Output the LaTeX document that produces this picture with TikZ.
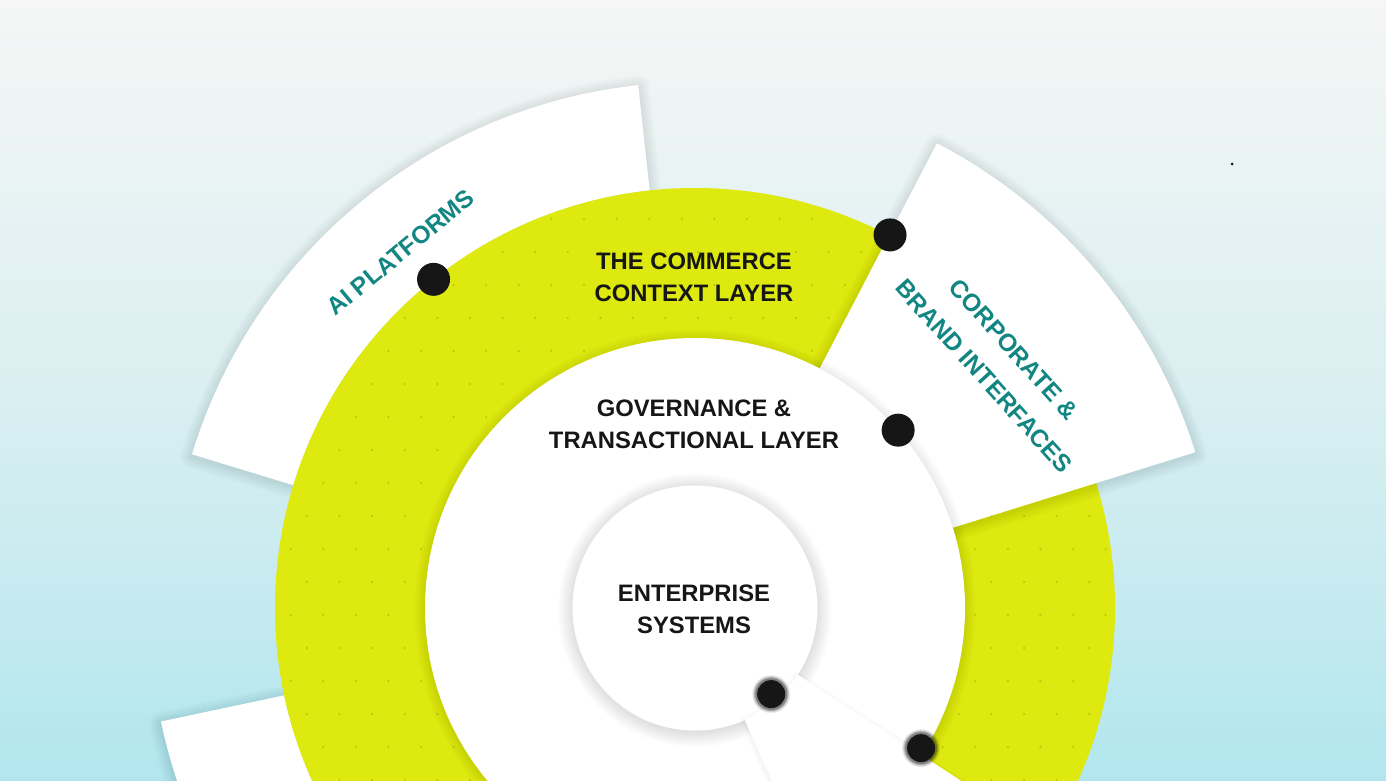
\documentclass[tikz,border=0pt]{standalone}
\usepackage{fontspec}
\setmainfont{Liberation Sans}
\definecolor{ringc}{RGB}{222,233,16}
\definecolor{ringdot}{RGB}{188,198,18}
\definecolor{tealtxt}{RGB}{18,134,130}
\definecolor{ink}{RGB}{22,22,22}
\definecolor{bgtop}{RGB}{245,246,245}
\definecolor{bgmid}{RGB}{218,239,241}
\definecolor{bgbot}{RGB}{178,230,238}
\newcommand\softshade[3]{% #1 path, #2 max width, #3 opacity per stroke
  \foreach \w in {2,4,...,#2}{\draw[black, line width=\w pt, opacity=#3, line join=round, yshift=-2pt] #1;}}
\begin{document}
\begin{tikzpicture}[x=1pt,y=1pt,
  darklabel/.style={text=ink, align=center, font=\bfseries\fontsize{23.8}{32}\selectfont},
  teallabel/.style={text=tealtxt, align=center, font=\bfseries\fontsize{24.5}{40}\selectfont},
  hub/.style={circle, fill=ink, minimum size=33pt, inner sep=0pt},
  hubsoft/.style={circle, fill=ink, minimum size=28pt, inner sep=0pt},
]
\useasboundingbox (0,0) rectangle (1386,780);
\fill[top color=bgtop, bottom color=bgbot, middle color=bgmid] (0,0) rectangle (1386,780);
\node[circle, fill=ink, minimum size=3pt, inner sep=0pt] (speck) at (1232,616) {};
\coordinate (C) at (695,172);
\begin{scope}[shift={(C)}]
  % bottom-left panel
  \def\pbl{(192:420) arc[start angle=192, end angle=250, radius=420] -- (250:546) arc[start angle=250, end angle=192, radius=546] -- cycle}
  \softshade{\pbl}{24}{0.008}
  \fill[white] \pbl;
  % AI platforms panel
  \def\pai{(96.2:420) arc[start angle=96.2, end angle=163, radius=420] -- (163:526) arc[start angle=163, end angle=96.2, radius=526] -- cycle}
  \softshade{\pai}{24}{0.008}
  \fill[white] \pai;
  % commerce ring
  \fill[ringc] (0,0) circle[radius=420];
\end{scope}
% dotted texture on the ring
\foreach \k in {-3,...,18}{
  \pgfmathsetmacro\yy{528-33*\k}
  \pgfmathsetmacro\off{mod(\k+100,2)*16.3}
  \foreach \j in {-10,...,17}{
    \pgfmathsetmacro\xx{567.7+32.6*\j-\off}
    \pgfmathsetmacro\rr{veclen(\xx-695,\yy-172)}
    \ifdim\rr pt>276pt \ifdim\rr pt<415pt
      \fill[ringdot] (\xx,\yy) circle[radius=1.2];
    \fi\fi
  }
}
\begin{scope}[shift={(C)}]
  % corporate panel
  \def\pcorp{(17.3:270) arc[start angle=17.3, end angle=62.5, radius=270] -- (62.5:524) arc[start angle=62.5, end angle=17.3, radius=524] -- cycle}
  \softshade{\pcorp}{24}{0.008}
  \fill[white] \pcorp;
  % governance disk
  \softshade{(0,0) circle[radius=270]}{22}{0.008}
  \fill[white] (0,0) circle[radius=270];
  % enterprise core shadow
  \softshade{(0,0) circle[radius=122]}{30}{0.009}
\end{scope}
\node[circle, minimum size=245pt, inner sep=0pt, fill=white] (core) at (C) {};
\begin{scope}[shift={(C)}]
  % bottom panel
  \def\pbot{(-66:122) -- (-66:700) arc[start angle=-66, end angle=-33, radius=700] -- (-33:122) arc[start angle=-33, end angle=-66, radius=122] -- cycle}
  \softshade{\pbot}{10}{0.006}
  \fill[white] \pbot;
  \node[hub] (d1) at (128.5:420) {};
  \node[hub] (d2) at (62.4:421) {};
  \node[hub] (d3) at (41.2:270) {};
  \coordinate (d4) at (-48.5:115);
  \coordinate (d5) at (-31.8:266);
\end{scope}
\foreach \d in {d4,d5}{
  \foreach \rad/\op in {19/0.08,18/0.12,17/0.18,16/0.3}{
    \fill[ink, opacity=\op] (\d) circle[radius=\rad];
  }
}
\node[hubsoft] (h4) at (d4) {};
\node[hubsoft] (h5) at (d5) {};
\node[darklabel] (ent) at (694,171) {ENTERPRISE\\SYSTEMS};
\node[darklabel] (commerce) at (694,503) {THE COMMERCE\\CONTEXT LAYER};
\node[darklabel] (gov) at (694,355.5) {GOVERNANCE \&\\TRANSACTIONAL LAYER};
\node[teallabel, rotate=39.6] (ai) at (400.5,527.5) {AI PLATFORMS};
\node[teallabel, rotate=-48] (corp) at (999,417) {CORPORATE \&\\BRAND INTERFACES};
\end{tikzpicture}
\end{document}
